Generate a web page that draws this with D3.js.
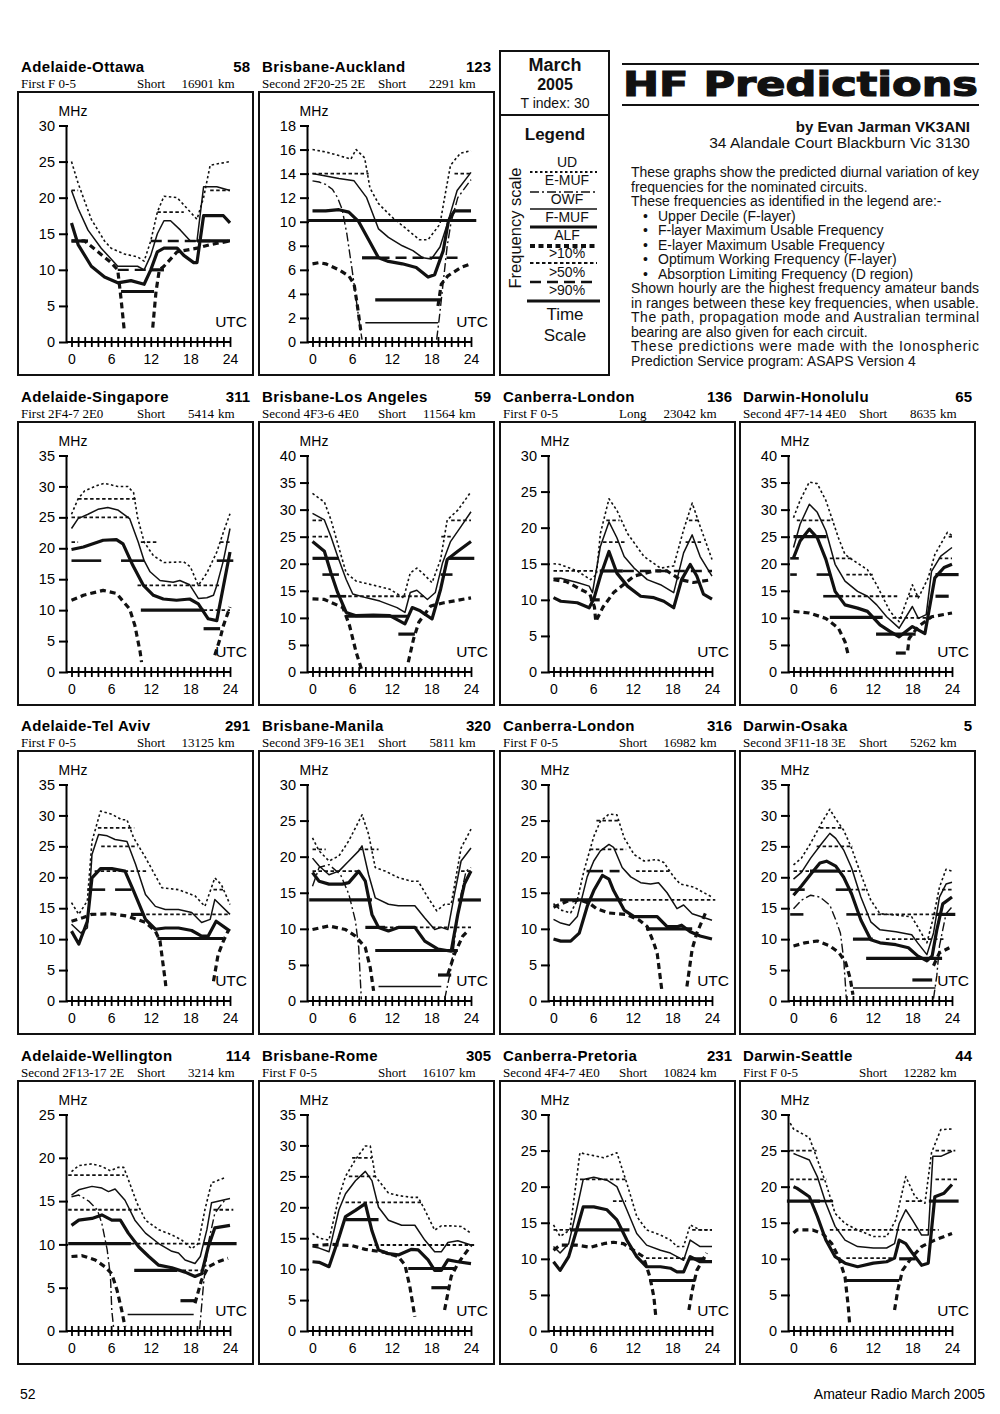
<!DOCTYPE html>
<html>
<head>
<meta charset="utf-8">
<script src="https://cdn.jsdelivr.net/npm/d3@7"></script>
<style>
  body { margin: 0; background: #fff; }
  svg { display: block; }
</style>
</head>
<body>
<svg id="page" width="1000" height="1414"></svg>
<script>
// ---- panel text ----
const panelTitles = ["Adelaide-Ottawa","Brisbane-Auckland","Adelaide-Singapore","Brisbane-Los Angeles","Canberra-London","Darwin-Honolulu","Adelaide-Tel Aviv","Brisbane-Manila","Canberra-London","Darwin-Osaka","Adelaide-Wellington","Brisbane-Rome","Canberra-Pretoria","Darwin-Seattle"];
const bearings = ["58","123","311","59","136","65","291","320","316","5","114","305","231","44"];
const modes = ["First F 0-5","Second 2F20-25 2E","First 2F4-7 2E0","Second 4F3-6 4E0","First F 0-5","Second 4F7-14 4E0","First F 0-5","Second 3F9-16 3E1","First F 0-5","Second 3F11-18 3E","Second 2F13-17 2E","First F 0-5","Second 4F4-7 4E0","First F 0-5"];
const pathTypes = ["Short","Short","Short","Short","Long","Short","Short","Short","Short","Short","Short","Short","Short","Short"];
const distances = ["16901","2291","5414","11564","23042","8635","13125","5811","16982","5262","3214","16107","10824","12282"];
const yMax = [30,18,35,40,30,40,35,30,30,35,25,35,30,30];
const yStep = [5,2,5,5,5,5,5,5,5,5,5,5,5,5];
const hourLabels = [0,6,12,18,24];

// ---- curves: [UTC hour, MHz], null = gap ----
const udData = [
  [[0,25],[1,22],[2,19.5],[3,17],[4,15.5],[5,14],[6,13],[8,12.2],[10,11.8],[11,11.2],[12,14],[13,18],[14,20.2],[16,20],[17,19],[19,17],[20,20],[21,24.5],[24,25]],
  [[0,16],[2,15.8],[4,15.5],[5.8,15.2],[6.6,16],[7.9,15.3],[8.7,12.8],[10,11.5],[12,10.4],[14,9.5],[16.2,8.5],[17.5,8.5],[19.3,9.8],[20.1,12.3],[20.9,14.7],[22.4,15.7],[24,15.9]],
  [[0,25.5],[1,28],[2,29.3],[4,30.2],[5,30.5],[7,30],[8.5,30],[9.4,29],[10,25],[11,21],[12.4,18.8],[14,17.7],[17,17.8],[18,17],[19.2,14],[20.5,16],[22,19.4],[23,22.6],[24,25.6]],
  [[0,33],[1.8,31.4],[2.8,28.1],[3.8,23.8],[5.1,18.3],[6.6,16.8],[9.7,15.9],[11.7,15.3],[13.8,13.7],[14.8,18.3],[15.8,19.2],[16.9,18],[18.1,16.5],[19.4,20.8],[20.4,28.1],[22,29.9],[24,33.3]],
  [[0,15],[1,14.9],[3.6,14],[5.6,12.8],[6.5,13.5],[7.1,19.2],[8.4,24],[9.6,22.4],[11.2,19.2],[13.7,16],[16.2,14.4],[18.2,14.7],[19.7,19.7],[21,23.4],[22.2,20.2],[24,15.6]],
  [[0,28.5],[1,31.7],[2.4,35.1],[3.6,34.8],[4.9,31.7],[6.8,24.8],[7.8,21.7],[9.2,20.5],[11.2,18.9],[12.6,16.1],[14.6,11.2],[16,9.3],[18,16.1],[18.9,13.7],[20.4,17.4],[21.4,21.7],[23.3,25.8],[24,25.2]],
  [[0,15.9],[1.1,14],[2.4,16.2],[3.1,25.8],[4.4,30.7],[6.1,30.2],[7.6,29.3],[8.4,29.3],[9.4,26.4],[11.2,23.2],[13.7,18.3],[16.2,18],[18.7,17],[20.2,15.3],[21.7,19.9],[22.7,18.8],[24,15.6]],
  [[0,22.6],[1,20.8],[2.5,19.4],[4,20.1],[5.5,22.2],[7,24.9],[7.5,25.8],[8.5,23.1],[9.5,18.5],[11,18],[13,17.1],[15,16.6],[16,16.6],[17.5,14.3],[18.8,12.5],[20,13.4],[21,13.4],[22.5,21.2],[24,23.8]],
  [[0,13.5],[1.1,12.6],[2.6,12.2],[3.6,14],[4.6,18],[6.1,22.8],[7.1,24.9],[8.4,25.9],[9.6,25.8],[10.7,22.6],[12.2,20.3],[13.7,19.4],[15.7,19.6],[16.7,19.2],[18.2,17.2],[19.2,16.2],[21.2,15.8],[24,14.4]],
  [[0,22],[1.2,23.1],[2.6,25.5],[4.3,28.9],[5.5,31],[6.4,29.4],[7.6,27.6],[8.8,24.7],[10.2,20.5],[11.7,16.3],[13.1,14.1],[15.5,13.9],[17.9,13.6],[18.8,12],[20.2,9.4],[21.2,13.6],[22.1,18.4],[23.1,21.3],[24,21]],
  [[0,18.4],[1.1,19.1],[3.1,19.3],[4.6,19],[5.9,18.5],[7.1,18.9],[7.9,18.9],[8.6,17.5],[9.9,14.8],[11.2,12.8],[13.2,11.7],[15.2,11.1],[16.7,10.5],[18.2,9.5],[19.2,10.1],[20.2,14],[21.2,17.1],[23.2,17.7]],
  [[0,15.8],[1,15],[2.5,14.7],[4,21.7],[5,25],[6.5,27.7],[8,29.9],[8.75,29.9],[9.5,25],[11.5,22.3],[13,21.9],[15,21.6],[16,21.6],[17,19.6],[18.5,16.3],[19.5,17],[21,17],[22.5,16.9],[24,15.8]],
  [[0,14.7],[1,13.1],[2.5,14],[4,24.7],[6.1,24.3],[7.6,24],[9.6,24.7],[11.1,20.5],[12.6,15.9],[14.1,14],[16.2,13.3],[17.7,12.6],[18.7,11.7],[19.7,11.7],[20.7,14.7],[22.2,14],[24,14]],
  [[-0.5,28.8],[0,28],[2.4,26.8],[3.6,23.8],[4.9,20.5],[6.3,16.3],[7.8,14.9],[9.7,14],[12.1,13.1],[14.1,13.1],[15.5,15.4],[17,21.4],[18.4,18.6],[19.9,17.7],[20.9,24.7],[22.3,27.9],[24,28]]
];

const mufData = [
  [[0,21],[1,18.5],[2.5,15.5],[4.5,13],[6,11.5],[7,10.5],[10,10.5],[11,10],[12,12],[13,15],[14,16.8],[15,16.8],[16.5,15.5],[18,14],[19,14],[20,21.5],[22,21.5],[24,21]],
  [[0,14],[2,13.8],[4,13.6],[6.3,13.4],[8.2,12],[10,9.4],[11.5,8.7],[13.6,8],[15.2,7.6],[16.7,7],[18,6.9],[19.3,7.9],[20.4,9.8],[21.9,12.6],[24,14.1]],
  [[0,23.2],[1,24.8],[2.5,25.5],[4,26.3],[5.5,26.6],[7,26.2],[8.8,24.8],[10.1,21],[11,18],[11.9,16.2],[13.4,14.8],[15.4,14.5],[16.4,14.8],[17.9,14.1],[19.2,11.9],[20.5,12],[21.5,12.4],[22,14],[23,18],[24,23.2]],
  [[0,29.3],[1.8,28.1],[2.8,25],[3.8,21.4],[5.1,17.1],[6.1,14.4],[8.2,13.7],[10.2,13.1],[12.8,11.9],[14,11],[14.8,14.7],[15.8,15.1],[17.4,13.4],[18.6,14.7],[19.7,20.2],[20.9,24.1],[22.5,26.9],[24,29.6]],
  [[0,13],[1.1,13],[3.6,12.4],[5.4,11.9],[5.9,11],[7.1,17.4],[8.4,20.8],[9.6,18.6],[10.7,16],[12.2,14.4],[14.2,12.8],[16.2,12.1],[18.2,11],[19.7,16.5],[21,19],[22.2,16],[24,13.3]],
  [[0,23],[1,27.3],[2.4,31],[3.6,29.5],[4.9,26.1],[6.3,19.9],[7.8,16.8],[9.7,14.9],[11.2,14],[12.6,12.4],[14.1,10.2],[16,8.1],[18,12.1],[18.9,9.9],[20.1,10.6],[20.9,18.6],[22.3,21.4],[24,23]],
  [[0,12.4],[1.4,11],[2.4,11.8],[3.1,23.7],[4.1,26.9],[5.4,26.7],[6.6,26.1],[8.4,25.8],[9.7,22.1],[11.2,17.2],[12.7,15.3],[14.2,14.8],[16.2,14.8],[18.2,14.3],[19.7,12.7],[21,13.2],[21.7,16.4],[24,14]],
  [[0,19.8],[1,18.7],[2.5,17.5],[4,18],[5.5,19.4],[7,20.8],[7.5,21.5],[8.5,17.5],[9.5,14.3],[11.5,13.4],[13,13.2],[15.5,13.2],[17,11.5],[18.5,9.9],[19.5,10.2],[20.5,9.9],[21.5,14.8],[22.5,19.4],[24,21.2]],
  [[0,11.3],[1.1,10.8],[2.4,10.5],[3.6,11.7],[5.1,17.2],[6.1,19.4],[7.1,20.8],[8.4,21.7],[9.1,21.3],[10.4,18.5],[11.7,17.2],[13.2,16.4],[14.7,16.2],[15.9,16.4],[17.2,15],[18.7,12.8],[19.7,13.3],[21,12.1],[24,11.2]],
  [[0,19.7],[1.2,20.8],[2.6,23.1],[4.3,25.5],[5.5,27.1],[6.4,26.3],[7.6,24.4],[8.8,21.5],[10.2,16.8],[11.7,12.8],[13.1,11.5],[15.5,11.2],[17.9,10.7],[18.8,9.4],[20.2,7.5],[21.2,11],[22.1,16.8],[23.1,18.9],[24,19.2]],
  [[0,15.7],[1.1,16.3],[3.1,16.7],[4.6,16.5],[5.6,16.1],[6.6,16.4],[8.1,15.1],[9.6,12.8],[11.2,11.3],[13.2,10.1],[15.2,9.2],[16.2,9],[17.2,8.2],[18.7,7.8],[19.5,8.6],[20.5,11.7],[21.2,14.8],[24,15.3]],
  [[0,13.6],[1,13.4],[2.5,12.8],[4,19.6],[5,22.2],[6.5,24.3],[8,25.8],[9,24.3],[10,20],[11.5,17.9],[13.5,17.1],[15.5,17.1],[17,14.7],[18.5,12.8],[19.5,12.8],[20.5,14.3],[22,14.6],[24,13.9]],
  [[0,11.7],[1,10.8],[2.3,12.1],[3.5,16.8],[4.5,21],[6.1,21.3],[8.1,20.9],[9.6,20],[11.1,16.8],[12.6,13.5],[14.1,11.9],[16.2,11.2],[17.7,10.8],[18.7,10.3],[19.7,9.8],[20.7,12.6],[22.2,11.7],[24,11.7]],
  [[0,24.6],[0.5,24.4],[2.4,23.7],[3.6,21.4],[4.9,17.7],[6.3,14.5],[7.8,12.6],[9.7,11.7],[12.1,11.5],[14.1,11.5],[15.3,12.1],[16,14.9],[17,16.8],[18,15.4],[19.4,13.3],[20.4,13.3],[21.1,24.2],[22.3,24.2],[24,24.9]]
];

const owfData = [
  [[0,16.5],[1,13.5],[3,10.5],[5,9],[7,8.2],[9,8.5],[11,8],[12,10],[13,12.5],[14,13],[16,13],[17,12],[18.5,11],[19,11],[20,17.5],[23,17.5],[24,16.5]],
  [[0,10.9],[2,10.9],[4,11],[5.5,10.8],[7,10],[8.5,8.5],[10,7],[11.5,6.7],[13.6,6.5],[15.7,6.2],[17.5,5.4],[18.5,5.6],[19.8,7.6],[20.6,10.1],[21.5,10.9],[24,10.9]],
  [[0,19.8],[1.8,20.2],[4.8,21.3],[6.8,21.4],[7.8,20.7],[9.3,17.2],[10.9,14],[12.4,12.4],[13.9,11.8],[15.9,11.6],[17.9,11.8],[19.2,11],[20.7,8.6],[22,8.3],[24,19.4]],
  [[0,24.1],[1.8,22.3],[2.8,18.3],[3.8,14.7],[5.1,11],[6.6,10.4],[9.2,10.5],[11.7,10.4],[14,8.9],[15.1,11.9],[16.3,11.3],[18.1,9.8],[19.4,15.3],[20.4,20.8],[22,22.3],[24,24.1]],
  [[0,10.3],[1.1,9.8],[3.6,9.6],[5.4,8.9],[6.1,10.1],[7.1,13.3],[8.4,16.7],[9.6,13.7],[11.2,11.9],[13.2,10.5],[15.2,10.3],[16.7,9.8],[18.2,8.9],[19.4,12.8],[20.7,14.9],[21.7,13.3],[22.7,10.8],[24,10.1]],
  [[0,21.1],[1,24.2],[2.4,26.4],[3.6,24.8],[4.9,20.8],[6.3,14.9],[7.8,12.4],[9.7,11.8],[11.2,11.2],[13.1,8.7],[14.6,7.5],[16,6.5],[18,8.4],[19.9,7.1],[21.4,17.4],[22.8,19.3],[24,19.9]],
  [[0,11.3],[1.1,9.2],[2.4,12.9],[3.1,19.9],[4.4,21.4],[6.1,21.4],[8.1,21],[9.4,17.8],[11.2,13.2],[12.7,11.6],[14.2,11.8],[16.2,11.8],[18.2,11.4],[19.7,10.5],[20.7,10.5],[21.9,12.9],[24,11.3]],
  [[0,17.8],[1,16.6],[2.5,16.2],[4.5,16.2],[5.5,16.4],[7,18],[8,16.6],[9,12],[10,10.2],[11.5,9.7],[13,10.2],[15.5,10.2],[17,8.3],[19,7.2],[21,6.9],[22,12],[23,16.2],[24,18]],
  [[0,8.6],[1.1,8.3],[2.6,8.3],[3.9,9.4],[5.1,13.1],[6.1,15.3],[7.4,17.4],[8.4,16.9],[9.1,15.3],[10.7,12.6],[12.2,11.7],[14.2,11.7],[15.7,11.7],[17.2,10.3],[18.7,10.3],[19.4,10.5],[20.7,9.6],[22.2,9],[24,8.6]],
  [[0,17.1],[1.2,18.6],[2.6,20.5],[4,22.3],[5,22.6],[6.4,21.8],[7.6,20],[8.8,17.3],[10.2,13.1],[11.7,9.9],[13.1,9.4],[15.5,9.1],[17.4,8.6],[18.8,7.3],[20.2,6.5],[21,7.3],[21.7,11.5],[22.6,15.7],[24,16.8]],
  [[0,12.2],[1.1,12.8],[3.1,13],[4.6,13.4],[6.1,12.8],[7.4,12.8],[8.6,11.3],[10.2,9.7],[11.7,8.6],[13.2,7.6],[15.2,7.3],[17.2,6.8],[18.7,6.3],[19.7,6.6],[20.7,9.7],[21.7,11.9],[24,12.2]],
  [[0,11.2],[1,11.1],[2.5,10.4],[4,15.1],[5,18.5],[6.5,19.5],[8,20.6],[9,16.2],[10,13.1],[11.5,12.5],[13,12.3],[15,13.2],[16,13.1],[17.5,11.5],[18.5,9.8],[19.5,9.8],[20.5,11.5],[22,11.2],[24,10.9]],
  [[0,9.6],[1,8.4],[2.3,10.3],[3.5,14],[4.5,17.2],[6.1,17.2],[8.1,16.8],[9.6,15.4],[11.1,12.6],[12.6,10.3],[14.1,8.9],[16.2,8.9],[17.7,8.7],[18.7,8.2],[19.7,8.2],[20.7,10.3],[22.2,9.6],[24,9.6]],
  [[0,20],[0.5,19.8],[2.4,18.6],[3.6,15.9],[4.9,12.6],[6.3,10.3],[7.8,9.4],[9.7,8.9],[12.1,9.4],[14.1,9.6],[15.3,10.1],[16,12.6],[17,12.1],[18,10.8],[19.4,9.1],[20.4,9.4],[21.4,18.6],[22.8,19.1],[24,20.3]]
];

const emufData = [
  [],
  [[0,13.4],[1,13.3],[2,13.1],[3,12.7],[3.8,12],[4.5,11],[5.2,9],[6,6],[6.5,4],[7,2],[7.5,0.2],null,[18.8,0.2],[19.2,2],[19.8,5],[20.4,8],[21,10],[22,12],[24,13.5]],
  [], [], [], [], [],
  [[0,15.9],[1,18.5],[2.5,18.9],[4.25,17.5],[5.5,14.8],[6.5,11.1],[7,7.4],[7.25,2.8],[7.4,0.2],null,[20,0.2],[21,4.6],[21.75,10.2],[22.5,14.8],[23.25,18],[24,18.5]],
  [],
  [[0,14.9],[1.2,16.3],[2.6,17.1],[4,16.8],[5.5,15.5],[6.4,13.1],[7.1,11],[7.6,6.8],[8,0.4],null,[21.2,0.4],[21.7,4.1],[22.1,8.9],[23.1,14.1],[24,15.2]],
  [[0,15.5],[1.1,15.7],[2.6,15],[3.9,14],[4.6,12.4],[5.4,9.4],[5.9,6.3],[6.1,2.4],[6.4,0.2],null,[19.4,0.2],[20,5.5],[20.7,10.1],[21.7,13.6],[23.2,15.1]],
  [], [], []
];

const alfData = [
  [[0,14],[2,14],[4,12.5],[6,11],[7,10],[7.5,6],[8,1.5],null,[12.3,2],[12.8,7],[13.3,10],[14,10.5],[16,12.5],[19,13],[21,13.5],[24,14]],
  [[0,6.5],[1,6.6],[2,6.5],[4,6],[5.5,5.5],[6.3,4.8],[6.8,3],[7.3,1],null,[19,3],[19.5,4.8],[20.5,5.5],[22.5,6.2],[24,6.5]],
  [[0,11.6],[1.8,12.4],[4.8,13.2],[6.8,12.7],[8.8,10.2],[9.6,7.5],[10.4,3.2],[10.6,1.6],null,[21.7,2.7],[22.5,5.4],[23,7.5],[24,10.5]],
  [[0,13.5],[1.8,13.4],[4.6,11.9],[5.6,8.6],[6.6,3.7],[7.4,0.6],null,[14.5,1.8],[15.3,6.1],[16.1,9.2],[17.9,12.2],[19.9,12.8],[24,13.7]],
  [[0,12.8],[2,12.5],[4,11.5],[5.5,10.8],[6.2,9],[6.4,7],[7.5,9],[9.1,11],[12.2,13.3],[15.2,14],[17.2,14],[19.2,12.8],[21.2,12.4],[24,12.8]],
  [[0,11.2],[2.4,10.9],[4.9,9.9],[6.8,8.1],[7.8,5.6],[8.3,3.1],null,[17.3,4],[17.5,6.2],[18.9,8.4],[20.9,10.2],[24,10.9]],
  [[0,12.9],[1.8,13.5],[3,14],[6,14.1],[8.6,13.7],[11.2,12.7],[12.7,11.3],[13.4,9.7],[14.2,3.2],[14.3,2.2],null,[21.5,3.2],[22.2,7.5],[23,9.7],[23.7,11.3]],
  [[0,9.9],[2.5,10.4],[5,9.9],[6.5,9],[8,7.4],[8.75,4.6],[9.25,1.4],null,[20.5,3.7],[21.5,6.5],[22.75,9],[23.5,9.7]],
  [[0,13],[2,13.8],[4,14],[5.5,13.5],[6.5,12.8],[8.4,12.2],[11,12],[13,11.2],[14.2,10.3],[15.2,8],[15.7,6.6],[16.2,3],[16.4,1.5],null,[20.2,2],[21,7.2],[21.7,9.4],[23.2,12.6]],
  [[0,8.9],[1.7,9.4],[3.6,9.7],[5.5,8.9],[6.9,7.8],[7.9,6.2],[8.6,3.6],[9,1],null,[21.2,5.7],[22.1,7.8],[23.6,8.6]],
  [[0,8.6],[1.6,8.7],[3.6,8.2],[5.1,7.4],[6.1,6.6],[6.9,4.7],[7.6,2.4],[8.1,0.5],null,[18.7,3.2],[19.7,5.9],[20.7,7.4],[22.2,8],[23.7,8.4]],
  [[0,13.8],[3,14],[6,13.8],[8,13.2],[11,12.7],[13,12],[14,10.7],[14.75,7.1],[15.5,2.3],null,[20,3.4],[21,8.8],[22,10.9],[24,13.8]],
  [[0,11.2],[1,11.9],[3.5,11.9],[5.6,11.6],[7.6,12.1],[9.1,12.3],[10.6,12.1],[12.1,11.2],[13.6,10.3],[14.6,7.5],[15.2,4.7],[15.5,1.9],null,[20.5,2.9],[21,5.6],[21.7,8.4],[23.2,10.8]],
  [[0,13.6],[0.5,14],[2.9,14],[4.4,13.5],[5.8,12.1],[6.8,10.3],[7.8,7.5],[8.3,3.3],[8.5,1],null,[15.3,2.9],[15.8,5.7],[16.5,8.4],[18,10.3],[19.4,11.7],[21.4,12.6],[24,13.5]]
];

// ---- amateur band levels: [from hour, to hour, MHz, kind] ----
// kind: "10" >10%, "50" >50%, "L" single long >50% dash, "90" >90%, "t" thin solid
const bandData = [
  [[0,1,21,"10"],[13,17,18,"10"],[21,24,21,"10"],[7,12,10,"50"],[12,21,14,"50"],[0,2.5,14,"90"],[7.5,12.5,7,"90"],[12,14,10,"90"],[19,24,14,"90"]],
  [[0,8.5,14,"10"],[21.5,24,14,"10"],[7.5,10,7,"90"],[10,22,7,"50"],[-0.8,24.8,10.1,"90"],[9.5,19.5,3.5,"90"],[8,19,1.6,"t"]],
  [[1,10,28,"10"],[0,9,25,"10"],[0,1,21,"10"],[10.5,13,21,"10"],[10,22.5,14,"10"],[20,24,10,"10"],[22.5,24,21,"10"],[0,4.5,18,"L"],[7.5,11,18,"L"],[22,24.5,18,"L"],[10.5,20,10,"90"],[20,22.5,7,"90"]],
  [[0,1.5,28,"10"],[0,2.5,25,"10"],[21,24,28,"10"],[19.5,21,25,"10"],[4.5,17,14,"10"],[1.5,4,18,"L"],[2.6,5.1,14,"L"],[19.4,21.2,18,"L"],[0,4,21,"90"],[20.5,24.5,21,"90"],[5,14.5,10.3,"90"],[13,15.5,7,"90"]],
  [[0,6.5,14,"10"],[8,10,21,"10"],[7.5,11,18,"10"],[20.5,22,21,"10"],[20,22.5,18,"10"],[10.5,24,14,"50"],[7,10.5,14,"90"],[5.5,7,10,"90"]],
  [[0.5,6,28,"10"],[5.5,9,21,"10"],[8,12,18,"10"],[7,16,14,"10"],[17.5,19,14,"10"],[15,21,10,"10"],[22,24,21,"10"],[23.5,24,25,"10"],[-0.5,0.8,21,"L"],[-0.5,0.5,18,"L"],[3.5,5.5,18,"L"],[4.5,7.5,14,"L"],[0,5,25,"90"],[5.5,13.5,10.1,"90"],[12.5,18.5,7,"90"],[21.5,25,18,"90"],[21.5,23.5,14,"90"],[15.5,17,3.5,"90"]],
  [[4,9.5,28,"10"],[4.5,10,25,"10"],[3.5,11.5,21,"10"],[21.5,23,18,"10"],[9.5,24,14,"10"],[2.4,5.1,18,"L"],[6.6,9.1,18,"L"],[13,23,10.1,"90"],[9,11,14,"90"]],
  [[0,2,21,"10"],[7,10,21,"10"],[0,7,18,"10"],[22.5,24,18,"10"],[9,24,10.2,"10"],[-0.5,9,14,"90"],[22,25.5,14,"90"],[8,11,10.2,"90"],[9.5,22,7,"90"],[19,21,3.6,"90"],[10,19.5,2,"t"]],
  [[6.5,10,25,"10"],[5.5,11,21,"10"],[12.5,17.5,18,"10"],[10.5,24.5,14,"10"],[5,7.5,18,"L"],[8.5,10,18,"L"],[1,10.5,14,"90"],[14,21,10,"90"]],
  [[4,7.5,28,"10"],[3.5,9,25,"10"],[0,10,21,"10"],[8.5,11,18,"10"],[10,24,14,"10"],[14,23,10,"10"],[22.5,24,18,"10"],[-0.5,1.7,18,"L"],[6.4,8.3,18,"L"],[-0.5,1.5,14,"L"],[8,10,14,"L"],[2.5,7,21,"90"],[9,12,10,"90"],[11,22.5,6.9,"90"],[18,21,3.4,"90"],[21.5,24.5,14,"90"],[9,21.5,2.1,"t"]],
  [[-0.5,8,18,"10"],[-0.5,10,14,"10"],[21.5,24.5,14,"10"],[9,20.5,10.1,"10"],[15,20,7,"10"],[-0.5,9,10.1,"90"],[20,25,10.1,"90"],[9.5,16,7,"90"],[16.5,19,3.5,"90"],[8.5,18.5,1.9,"t"]],
  [[6,9,28,"10"],[5.5,9.5,25,"10"],[5,16.5,20.8,"10"],[8.5,24.5,13.9,"10"],[5,10,18,"90"],[14.5,21.5,10.1,"90"],[18,20.5,7,"90"]],
  [[4,11,21,"10"],[9,11,18,"10"],[0,3,14,"10"],[21,24,14,"10"],[14,20,10.1,"10"],[2.5,11.5,14,"90"],[14.5,21.5,7,"90"],[20.5,23,10,"90"]],
  [[-0.5,3.5,25,"10"],[-0.5,5,21,"10"],[21.5,24.5,25,"10"],[21.5,25,21,"10"],[17,19.5,18,"10"],[5.5,22,14,"10"],[8,15.5,10.1,"10"],[3,6,18,"L"],[-1,4,18,"90"],[20.5,25,18,"90"],[8,16,7,"90"],[16,18.5,10,"90"]]
];

// ---- header / legend text ----
const legendLabels = ["UD","E-MUF","OWF","F-MUF","ALF",">10%",">50%",">90%"];
const legendKinds = ["ud","emuf","muf","owf","alf","10","50","90"];
const introLines = [
  ["These graphs show the predicted diurnal variation of key", true, false],
  ["frequencies for the nominated circuits.", false, false],
  ["These frequencies as identified in the legend are:-", false, false],
  ["Upper Decile (F-layer)", false, true],
  ["F-layer Maximum Usable Frequency", false, true],
  ["E-layer Maximum Usable Frequency", false, true],
  ["Optimum Working Frequency (F-layer)", false, true],
  ["Absorption Limiting Frequency (D region)", false, true],
  ["Shown hourly are the highest frequency amateur bands", true, false],
  ["in ranges between these key frequencies, when usable.", true, false],
  ["The path, propagation mode and Australian terminal", true, false],
  ["bearing are also given for each circuit.", false, false],
  ["These predictions were made with the Ionospheric", true, false],
  ["Prediction Service program: ASAPS Version 4", false, false]
];

// ---- drawing ----
const SANS = "'Liberation Sans', Arial, Helvetica, sans-serif";
const SERIF = "'Liberation Serif', 'Times New Roman', serif";
const INK = "#111";
const colLeft = [18, 259, 500, 740];
const rowTop = [92, 422, 751, 1081];
const boxW = 235, boxH = 283;

const styles = {
  ud:   {w: 1.6, dash: "2.5,2.5"},
  muf:  {w: 1.5, dash: null},
  owf:  {w: 3.2, dash: null},
  emuf: {w: 1.4, dash: "9,3,2,3"},
  alf:  {w: 3.2, dash: "6,4"},
  "10": {w: 1.8, dash: "3.5,2.5"},
  "50": {w: 2.4, dash: "11,6"},
  "L":  {w: 2.6, dash: null},
  "90": {w: 3.2, dash: null},
  "t":  {w: 1.4, dash: null}
};

const svg = d3.select("#page");

function styled(sel, kind) {
  const s = styles[kind];
  sel.attr("fill", "none").attr("stroke", INK).attr("stroke-width", s.w)
     .attr("stroke-dasharray", s.dash).attr("stroke-linejoin", "round");
  return sel;
}

function drawPanel(i) {
  const row = i < 2 ? 0 : 1 + Math.floor((i - 2) / 4);
  const col = i < 2 ? i : (i - 2) % 4;
  const left = colLeft[col], top = rowTop[row];
  const ax = left + 48;
  const x = d3.scaleLinear().domain([0, 24]).range([ax + 5.5, ax + 164]);
  const y = d3.scaleLinear().domain([0, yMax[i]]).range([top + 250, top + 33.5]);
  const g = svg.append("g");

  g.append("rect").attr("x", left).attr("y", top).attr("width", boxW).attr("height", boxH)
    .attr("fill", "none").attr("stroke", INK).attr("stroke-width", 2);

  // headings
  g.append("text").attr("x", left + 3).attr("y", top - 20).text(panelTitles[i])
    .attr("font-family", SANS).attr("font-weight", "bold").attr("font-size", 15)
    .attr("letter-spacing", 0.4);
  g.append("text").attr("x", left + 232).attr("y", top - 20).attr("text-anchor", "end").text(bearings[i])
    .attr("font-family", SANS).attr("font-weight", "bold").attr("font-size", 15);
  const sub = g.append("g").attr("font-family", SERIF).attr("font-size", 13);
  sub.append("text").attr("x", left + 3).attr("y", top - 4).text(modes[i]);
  sub.append("text").attr("x", left + 119).attr("y", top - 4).text(pathTypes[i]);
  sub.append("text").attr("x", left + 196).attr("y", top - 4).attr("text-anchor", "end").text(distances[i]);
  sub.append("text").attr("x", left + 200).attr("y", top - 4).text("km");

  // y axis
  const yAxis = d3.axisLeft(y).tickValues(d3.range(0, yMax[i] + 0.01, yStep[i]))
    .tickSize(7).tickSizeOuter(0).tickPadding(4);
  const ya = g.append("g").attr("transform", `translate(${ax},0)`).call(yAxis);
  ya.attr("font-family", SANS).attr("font-size", 14.5);
  ya.selectAll("line").attr("x1", 2).attr("stroke-width", 2);
  ya.select(".domain").attr("stroke-width", 2);

  // x axis: hourly ticks crossing the line
  const xAxis = d3.axisBottom(x).tickValues(d3.range(0, 25))
    .tickFormat(d => hourLabels.includes(d) ? d : "").tickSize(5).tickSizeOuter(0).tickPadding(7);
  const xa = g.append("g").attr("transform", `translate(0,${y(0)})`).call(xAxis);
  xa.attr("font-family", SANS).attr("font-size", 14);
  xa.selectAll("line").attr("y1", -5).attr("stroke-width", 1.8);
  xa.select(".domain").attr("d", `M${ax},0H${x(24)}`).attr("stroke-width", 2);

  g.append("text").attr("x", ax + 7).attr("y", y(yMax[i]) - 10).attr("text-anchor", "middle")
    .text("MHz").attr("font-family", SANS).attr("font-size", 14);
  g.append("text").attr("x", left + 229).attr("y", y(0) - 15).attr("text-anchor", "end")
    .text("UTC").attr("font-family", SANS).attr("font-size", 15.5);

  // band levels
  bandData[i].forEach(b => {
    styled(g.append("line"), b[3])
      .attr("x1", x(b[0])).attr("x2", x(b[1])).attr("y1", y(b[2])).attr("y2", y(b[2]));
  });

  const line = d3.line().defined(d => d !== null).x(d => x(d[0])).y(d => y(d[1]));
  [["alf", alfData], ["emuf", emufData], ["owf", owfData], ["muf", mufData], ["ud", udData]]
    .forEach(([kind, data]) => {
      if (data[i].length) styled(g.append("path"), kind).attr("d", line(data[i]));
    });
}

d3.range(panelTitles.length).forEach(drawPanel);

// ---- date box + legend ----
const lg = svg.append("g").attr("font-family", SANS).attr("fill", INK);
lg.append("rect").attr("x", 500).attr("y", 51).attr("width", 109).attr("height", 64)
  .attr("fill", "none").attr("stroke", INK).attr("stroke-width", 2);
lg.append("rect").attr("x", 500).attr("y", 115).attr("width", 109).attr("height", 260)
  .attr("fill", "none").attr("stroke", INK).attr("stroke-width", 2);
lg.append("text").attr("x", 555).attr("y", 71).attr("text-anchor", "middle")
  .attr("font-weight", "bold").attr("font-size", 18).text("March");
lg.append("text").attr("x", 555).attr("y", 90).attr("text-anchor", "middle")
  .attr("font-weight", "bold").attr("font-size", 16).text("2005");
lg.append("text").attr("x", 555).attr("y", 108).attr("text-anchor", "middle")
  .attr("font-size", 14).text("T index: 30");
lg.append("text").attr("x", 555).attr("y", 140).attr("text-anchor", "middle")
  .attr("font-weight", "bold").attr("font-size", 17).text("Legend");
lg.append("text").attr("transform", "translate(520.5,228) rotate(-90)").attr("text-anchor", "middle")
  .attr("font-size", 16.5).text("Frequency scale");

const legendY = d3.scalePoint().domain(legendLabels).range([167, 295]);
const legendLineY = [172, 192, 209, 227, 246, 263, 282, 301];
legendLabels.forEach((lab, k) => {
  lg.append("text").attr("x", 567).attr("y", legendY(lab)).attr("text-anchor", "middle")
    .attr("font-size", 14).text(lab);
  const kind = legendKinds[k];
  const l = styled(lg.append("line"), kind)
    .attr("x1", k === 7 ? 527 : 530).attr("x2", k === 7 ? 600 : 597)
    .attr("y1", legendLineY[k]).attr("y2", legendLineY[k]);
  if (kind === "alf") l.attr("stroke-width", 4).attr("stroke-dasharray", "5,3.5");
  if (kind === "ud") l.attr("stroke-width", 2);
});
lg.append("text").attr("x", 565).attr("y", 320).attr("text-anchor", "middle").attr("font-size", 17).text("Time");
lg.append("text").attr("x", 565).attr("y", 341).attr("text-anchor", "middle").attr("font-size", 17).text("Scale");

// ---- title block ----
const hd = svg.append("g").attr("fill", INK);
[64, 105].forEach(yy => hd.append("line").attr("x1", 622).attr("x2", 979).attr("y1", yy).attr("y2", yy)
  .attr("stroke", INK).attr("stroke-width", 2.2));
hd.append("text").attr("x", 623).attr("y", 96).attr("font-family", "'DejaVu Sans', sans-serif")
  .attr("font-weight", "bold").attr("font-size", 34).attr("textLength", 355)
  .attr("lengthAdjust", "spacingAndGlyphs").attr("stroke", INK).attr("stroke-width", 1.2)
  .text("HF Predictions");
hd.append("text").attr("x", 970).attr("y", 132).attr("text-anchor", "end").attr("font-family", SANS)
  .attr("font-weight", "bold").attr("font-size", 15).text("by Evan Jarman VK3ANI");
hd.append("text").attr("x", 970).attr("y", 148).attr("text-anchor", "end").attr("font-family", SANS)
  .attr("font-size", 15.5).text("34 Alandale Court Blackburn Vic 3130");

introLines.forEach(([txt, justify, bullet], k) => {
  const yy = 177 + k * 14.5;
  if (bullet) {
    hd.append("text").attr("x", 643).attr("y", yy).attr("font-family", SANS).attr("font-size", 14).text("\u2022");
  }
  const t = hd.append("text").attr("x", bullet ? 658 : 631).attr("y", yy)
    .attr("font-family", SANS).attr("font-size", 14).text(txt);
  if (justify) t.attr("textLength", 348).attr("lengthAdjust", "spacing");
});

// ---- footer ----
svg.append("text").attr("x", 20).attr("y", 1399).attr("font-family", SANS).attr("font-size", 14).text("52");
svg.append("text").attr("x", 985).attr("y", 1399).attr("text-anchor", "end").attr("font-family", SANS)
  .attr("font-size", 14).text("Amateur Radio March 2005");
</script>
</body>
</html>
